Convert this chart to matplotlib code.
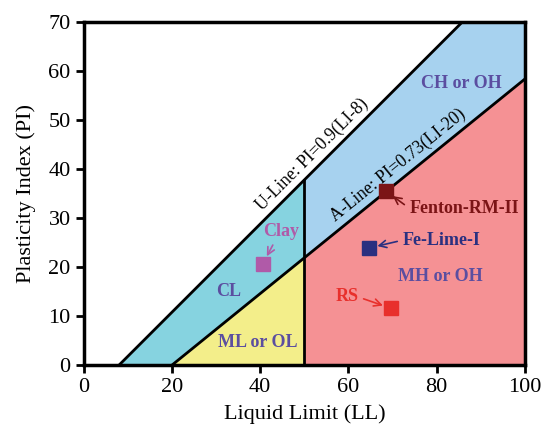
import numpy as np
import matplotlib.pyplot as plt

plt.rcParams['font.family'] = ['Liberation Serif', 'DejaVu Serif']

# muestras (LL, PI)
muestras = ['Clay', 'Fe-Lime-I', 'Fenton-RM-II', 'RS']
ll = [40.6, 64.7, 68.5, 69.6]
pi = [20.7, 23.9, 35.5, 11.6]
colores = ['#b05aa8', '#2a3080', '#7b1416', '#e8302c']
# posicion de las etiquetas de cada muestra
etiqueta_x = [44.7, 72.3, 73.8, 62.2]
etiqueta_y = [27.3, 25.5, 32.0, 13.9]

zonas = ['CL', 'ML or OL', 'CH or OH', 'MH or OH']
zona_x = [32.8, 39.5, 85.5, 80.8]
zona_y = [15.0, 4.6, 57.5, 18.0]

def u_line(x):
    return 0.9 * (x - 8)

def a_line(x):
    return 0.73 * (x - 20)

fig, ax = plt.subplots(figsize=(5.44, 4.25), dpi=100)
fig.subplots_adjust(left=0.154, right=0.965, bottom=0.141, top=0.948)

x_cl = np.linspace(8, 50, 50)
ax.fill_between(x_cl, np.maximum(a_line(x_cl), 0), u_line(x_cl), color='#86d3e0', lw=0)
x_ml = np.linspace(20, 50, 50)
ax.fill_between(x_ml, 0, a_line(x_ml), color='#f3ee8a', lw=0)
x_ch = np.linspace(50, 100, 100)
ax.fill_between(x_ch, a_line(x_ch), np.minimum(u_line(x_ch), 70), color='#a7d2ef', lw=0)
ax.fill_between(x_ch, 0, a_line(x_ch), color='#f59194', lw=0)

x_u = np.array([8, 8 + 70 / 0.9])
ax.plot(x_u, u_line(x_u), color='black', lw=2)
x_a = np.array([20, 100])
ax.plot(x_a, a_line(x_a), color='black', lw=2)
ax.plot([50, 50], [0, u_line(50)], color='black', lw=2)

# etiquetas de las lineas, apoyadas sobre cada recta
ax.annotate('U-Line: PI=0.9(LI-8)', xy=(53.8, u_line(53.8)), xytext=(-2, 2),
            textcoords='offset points', rotation=45, rotation_mode='anchor',
            ha='center', va='bottom', fontsize=12.7)
ax.annotate('A-Line: PI=0.73(LI-20)', xy=(73.0, a_line(73.0)), xytext=(-1.6, 2.2),
            textcoords='offset points', rotation=39, rotation_mode='anchor',
            ha='center', va='bottom', fontsize=12.7)

for nombre, x, y in zip(zonas, zona_x, zona_y):
    ax.text(x, y, nombre, ha='center', va='center', fontsize=13,
            fontweight='bold', color='#5b4ea0')

for nombre, x, y, c, tx, ty in zip(muestras, ll, pi, colores, etiqueta_x, etiqueta_y):
    ax.plot(x, y, 's', color=c, markersize=10)
    if nombre == 'Clay':
        ha, rel = 'center', (0.35, 0.0)
    elif tx > x:
        ha, rel = 'left', (0.0, 0.5)
    else:
        ha, rel = 'right', (1.0, 0.5)
    ax.annotate(nombre, xy=(x, y), xytext=(tx, ty), ha=ha, va='center',
                fontsize=13, fontweight='bold', color=c,
                arrowprops=dict(arrowstyle='->', color=c, lw=1.2, relpos=rel,
                                shrinkA=2, shrinkB=6))

ax.set_xlim(0, 100)
ax.set_ylim(0, 70)
ax.set_xticks(range(0, 101, 20))
ax.set_yticks(range(0, 71, 10))
ax.set_xlabel('Liquid Limit (LL)', fontsize=16, labelpad=5)
ax.set_ylabel('Plasticity Index (PI)', fontsize=16, labelpad=9)
ax.tick_params(labelsize=16, width=2, length=6, direction='out')
for s in ax.spines.values():
    s.set_linewidth(2.5)

plt.savefig('out.png')
